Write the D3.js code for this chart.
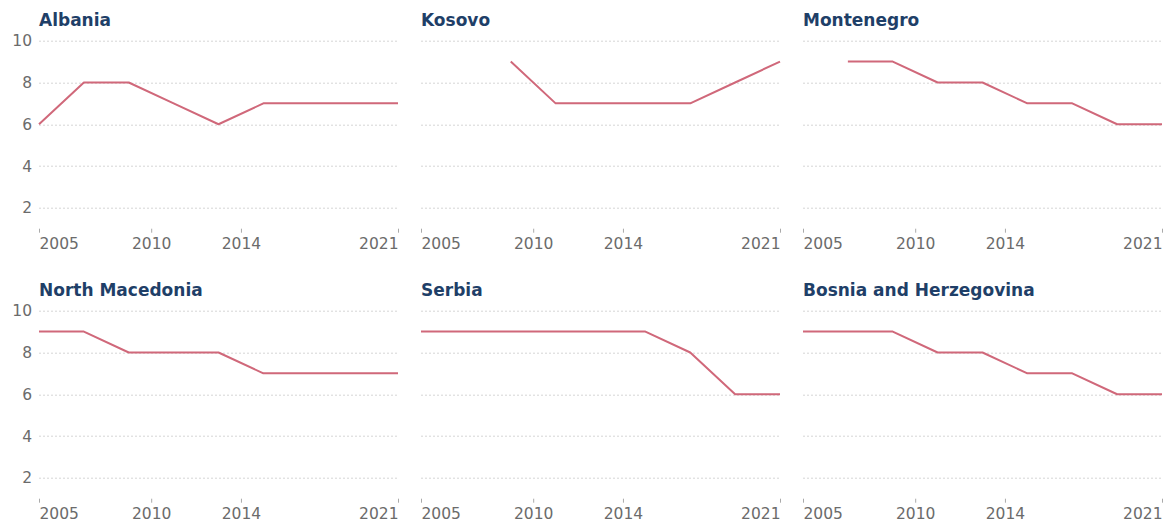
<!DOCTYPE html>
<html>
<head>
<meta charset="utf-8">
<script src="https://cdn.jsdelivr.net/npm/d3@7"></script>
<style>
  body { margin: 0; background: #fff; }
  svg { display: block; font-family: "DejaVu Sans", sans-serif; }
</style>
</head>
<body>
<div class="canvas"></div>
<script>
// data
const years = [2005, 2007, 2009, 2011, 2013, 2015, 2017, 2019, 2021];
const countries = ['Albania', 'Kosovo', 'Montenegro', 'North Macedonia', 'Serbia', 'Bosnia and Herzegovina'];
const albania = [6, 8, 8, 7, 6, 7, 7, 7, 7];
const kosovo = [null, null, 9, 7, 7, 7, 7, 8, 9];
const montenegro = [null, 9, 9, 8, 8, 7, 7, 6, 6];
const northMacedonia = [9, 9, 8, 8, 8, 7, 7, 7, 7];
const serbia = [9, 9, 9, 9, 9, 9, 8, 6, 6];
const bosnia = [9, 9, 9, 8, 8, 7, 7, 6, 6];
const xTicks = [2005, 2010, 2014, 2021];
const yTicks = [2, 4, 6, 8, 10];

const series = [albania, kosovo, montenegro, northMacedonia, serbia, bosnia];

const dims = { width: 1171, height: 523 };
const cols = [39, 421, 803];
const rows = [40.7, 310.7];
const plotW = 359;
const plotH = 188;

const svg = d3.select('.canvas')
  .append('svg')
    .attr('width', dims.width)
    .attr('height', dims.height);

const x = d3.scaleLinear().domain([2005, 2021]).range([0, plotW]);
const y = d3.scaleLinear().domain([1, 10]).range([plotH, 0]);

const line = d3.line()
  .defined(d => d.v != null)
  .x(d => x(d.year))
  .y(d => y(d.v));

countries.forEach((name, i) => {
  const col = i % 3;
  const row = Math.floor(i / 3);
  const g = svg.append('g')
    .attr('transform', `translate(${cols[col]}, ${rows[row]})`);

  // title
  g.append('text')
    .attr('x', 0)
    .attr('y', -15)
    .attr('fill', '#1f3f68')
    .attr('font-size', 17)
    .attr('font-weight', 'bold')
    .text(name);

  // gridlines
  g.append('g')
    .selectAll('line')
    .data(yTicks)
    .enter().append('line')
      .attr('x1', 0)
      .attr('x2', plotW)
      .attr('y1', d => Math.round(y(d)) + 0.5)
      .attr('y2', d => Math.round(y(d)) + 0.5)
      .attr('stroke', '#d6d6d6')
      .attr('stroke-width', 1)
      .attr('stroke-dasharray', '2,2');

  // y labels (first column only)
  if (col === 0) {
    g.append('g')
      .selectAll('text')
      .data(yTicks)
      .enter().append('text')
        .attr('x', -7)
        .attr('y', d => y(d))
        .attr('dy', '0.36em')
        .attr('text-anchor', 'end')
        .attr('fill', '#6b6b6b')
        .attr('font-size', 15.5)
        .text(d => d);
  }

  // x axis
  const xAxis = g.append('g')
    .attr('transform', `translate(0, ${plotH})`)
    .call(d3.axisBottom(x).tickValues(xTicks).tickFormat(d3.format('d')).tickSize(4).tickPadding(5));
  xAxis.select('.domain').remove();
  xAxis.selectAll('.tick line').attr('stroke', '#aaa');
  xAxis.selectAll('.tick text')
    .attr('fill', '#6b6b6b')
    .attr('font-size', 15.5)
    .attr('font-family', '"DejaVu Sans", sans-serif')
    .attr('text-anchor', (d, j) => j === 0 ? 'start' : (j === xTicks.length - 1 ? 'end' : 'middle'));

  // line
  const data = years.map((year, j) => ({ year, v: series[i][j] }));
  g.append('path')
    .datum(data)
    .attr('fill', 'none')
    .attr('stroke', '#d0687a')
    .attr('stroke-width', 2)
    .attr('stroke-linejoin', 'round')
    .attr('d', line);
});
</script>
</body>
</html>
